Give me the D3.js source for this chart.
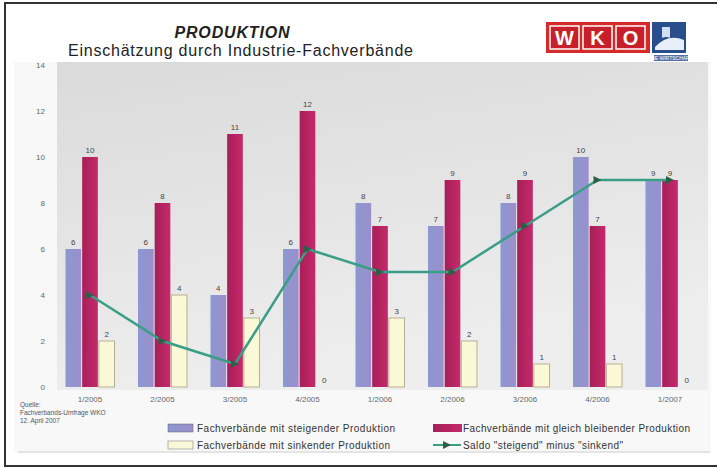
<!DOCTYPE html>
<html><head><meta charset="utf-8">
<script src="https://cdn.jsdelivr.net/npm/d3@7"></script>
<style>body{margin:0;background:#fff}svg{display:block;font-family:Arial,"Liberation Sans",sans-serif}</style>
</head><body><svg id="c" width="717" height="468"></svg>
<script>
const categories = ["1/2005","2/2005","3/2005","4/2005","1/2006","2/2006","3/2006","4/2006","1/2007"];
const steigend = [6,6,4,6,8,7,8,10,9];
const gleich = [10,8,11,12,7,9,9,7,9];
const sinkend = [2,4,3,0,3,2,1,1,0];
const saldo = [4,2,1,6,5,5,7,9,9];
const yTicks = [0,2,4,6,8,10,12,14];
const seriesNames = ["Fachverbände mit steigender Produktion","Fachverbände mit gleich bleibender Produktion","Fachverbände mit sinkender Produktion","Saldo \"steigend\" minus \"sinkend\""];

const svg = d3.select("#c");
const defs = svg.append("defs");
const g1 = defs.append("linearGradient").attr("id","bg").attr("x1",0).attr("y1",0).attr("x2",0.3).attr("y2",1);
g1.append("stop").attr("offset","0%").attr("stop-color","#dadada");
g1.append("stop").attr("offset","100%").attr("stop-color","#eeeeee");
const gb = defs.append("linearGradient").attr("id","blue").attr("x1",0).attr("x2",1);
gb.append("stop").attr("offset","0%").attr("stop-color","#8c98d0");
gb.append("stop").attr("offset","100%").attr("stop-color","#9a8fcc");
const gm = defs.append("linearGradient").attr("id","mag").attr("x1",0).attr("x2",1);
gm.append("stop").attr("offset","0%").attr("stop-color","#a81e58");
gm.append("stop").attr("offset","100%").attr("stop-color","#c42a6a");

// frame
svg.append("rect").attr("x",5).attr("y",3).attr("width",716).attr("height",463).attr("fill","#fff").attr("stroke","#333").attr("stroke-width",2);
svg.append("rect").attr("x",14).attr("y",62).attr("width",697).attr("height",390).attr("fill","#f8f8f8");

const x0 = 53.75, x1 = 706.25, yTop = 65, yBot = 387;
const x = d3.scaleBand().domain(categories).range([x0,x1]).paddingInner(0.31).paddingOuter(0.155);
const xs = d3.scaleBand().domain([0,1,2]).range([0,x.bandwidth()]);
const y = d3.scaleLinear().domain([0,14]).range([yBot,yTop]);

svg.append("rect").attr("x",57).attr("y",62).attr("width",651).attr("height",328).attr("fill","url(#bg)");

// y axis labels
const ya = svg.append("g").attr("transform","translate(45,0)").call(d3.axisLeft(y).tickValues(yTicks).tickSize(0).tickPadding(0));
ya.select(".domain").remove();
ya.selectAll("text").attr("font-size",8).attr("fill","#666");

// x axis labels
const xa = svg.append("g").attr("transform",`translate(0,${yBot+6})`).call(d3.axisBottom(x).tickSize(0).tickPadding(3));
xa.select(".domain").remove();
xa.selectAll("text").attr("font-size",8).attr("fill","#666");

const series = [
  {vals: steigend, fill: "url(#blue)", stroke: "none"},
  {vals: gleich, fill: "url(#mag)", stroke: "none"},
  {vals: sinkend, fill: "#fbf8d8", stroke: "#b8b090"}
];
series.forEach((s,si)=>{
  const g = svg.append("g");
  g.selectAll("rect").data(categories).join("rect")
    .attr("x",(c)=>x(c)+xs(si)+0.5)
    .attr("y",(c,i)=>y(s.vals[i]))
    .attr("width",xs.bandwidth()-1)
    .attr("height",(c,i)=>y(0)-y(s.vals[i]))
    .attr("fill",s.fill).attr("stroke",s.stroke).attr("stroke-width",1);
  g.selectAll("text").data(categories).join("text")
    .attr("x",(c)=>x(c)+xs(si)+xs.bandwidth()/2)
    .attr("y",(c,i)=>y(s.vals[i])-4)
    .attr("text-anchor","middle").attr("font-size",8).attr("fill","#444")
    .text((c,i)=>s.vals[i]);
});

// saldo line
const line = d3.line().x((d,i)=>x(categories[i])+x.bandwidth()/2).y(d=>y(d));
svg.append("path").datum(saldo).attr("d",line).attr("fill","none").attr("stroke","#3a9e86").attr("stroke-width",2.5);
svg.append("g").selectAll("path").data(saldo).join("path")
  .attr("transform",(d,i)=>`translate(${x(categories[i])+x.bandwidth()/2},${y(d)})`)
  .attr("d","M-4,-4L4,0L-4,4Z").attr("fill","#2e5e48");

// titles
svg.append("text").attr("x",232).attr("y",38).attr("text-anchor","middle").attr("font-size",16).attr("font-weight","bold").attr("font-style","italic").attr("fill","#222").attr("textLength",115).text("PRODUKTION");
svg.append("text").attr("x",68).attr("y",56).attr("font-size",16).attr("fill","#222").attr("textLength",345).text("Einschätzung durch Industrie-Fachverbände");

// logo
const lg = svg.append("g");
lg.append("rect").attr("x",546).attr("y",22).attr("width",104).attr("height",31).attr("fill","#d42a2a");
["W","K","O"].forEach((t,i)=>{
  lg.append("rect").attr("x",550+i*33).attr("y",26).attr("width",29).attr("height",23).attr("fill","#c8202a").attr("stroke","#fff").attr("stroke-width",1.5);
  lg.append("text").attr("x",564.5+i*33).attr("y",45).attr("text-anchor","middle").attr("font-size",20).attr("font-weight","bold").attr("fill","#fff").text(t);
});
lg.append("rect").attr("x",652).attr("y",22).attr("width",34).attr("height",31).attr("fill","#2a4d8c");
lg.append("path").attr("d","M655,47 Q668,33 684,40 L684,50 L655,50 Z").attr("fill","#e8eef8");
lg.append("path").attr("d","M662,27 L670,27 L670,38 Q666,36 662,38 Z").attr("fill","#cfe0f4");
lg.append("rect").attr("x",654).attr("y",55).attr("width",34).attr("height",6).attr("fill","#5570a8");
lg.append("text").attr("x",671).attr("y",60).attr("text-anchor","middle").attr("font-size",5).attr("fill","#fff").text("DIE WIRTSCHAFT");

// source
const src = ["Quelle:","Fachverbands-Umfrage WKO","12. April 2007"];
svg.append("g").selectAll("text").data(src).join("text")
  .attr("x",20).attr("y",(d,i)=>407+i*8).attr("font-size",6.5).attr("fill","#555").text(d=>d);

// legend
const leg = svg.append("g").attr("font-size",10).attr("fill","#333");
const lp = [[197,428,198],[463,428,227],[197,445,193],[463,445,160]];
leg.append("rect").attr("x",168).attr("y",424).attr("width",25).attr("height",8).attr("fill","url(#blue)").attr("stroke","#666").attr("stroke-width",0.5);
leg.append("rect").attr("x",433).attr("y",424).attr("width",29).attr("height",8).attr("fill","url(#mag)");
leg.append("rect").attr("x",168).attr("y",441).attr("width",25).attr("height",8).attr("fill","#fbf8d8").attr("stroke","#999").attr("stroke-width",0.7);
leg.append("line").attr("x1",433).attr("x2",461).attr("y1",445).attr("y2",445).attr("stroke","#3a9e86").attr("stroke-width",2);
leg.append("path").attr("d","M443,441L451,445L443,449Z").attr("fill","#2e5e48");
leg.selectAll("text").data(seriesNames).join("text")
  .attr("x",(d,i)=>lp[i][0]).attr("y",(d,i)=>lp[i][1]+3.5)
  .attr("textLength",(d,i)=>lp[i][2]).text(d=>d);
svg.append("line").attr("x1",18).attr("x2",710).attr("y1",452).attr("y2",452).attr("stroke","#e4e4e4").attr("stroke-width",2);
</script></body></html>
